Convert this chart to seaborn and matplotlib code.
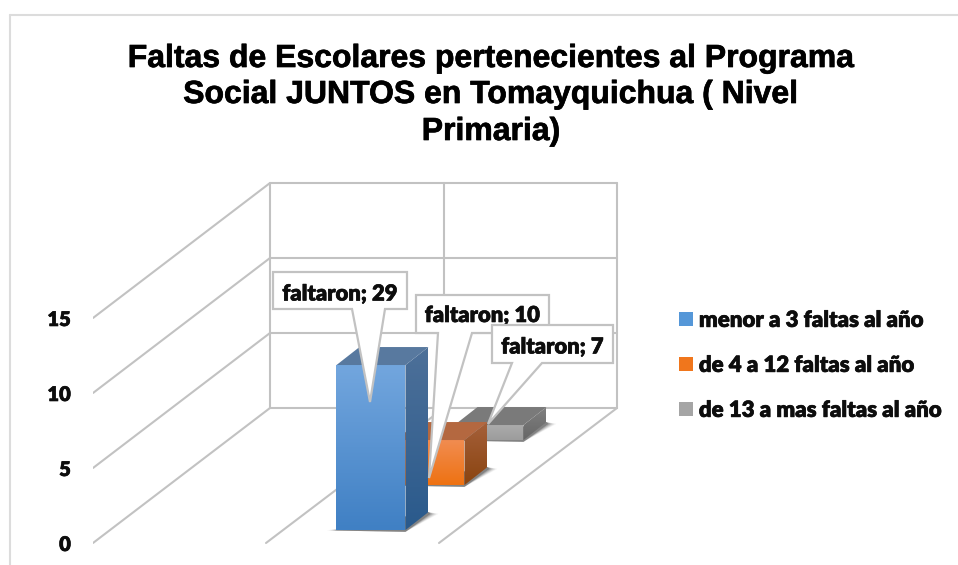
import numpy as np
import pandas as pd
import matplotlib
matplotlib.use('Agg')
import matplotlib.pyplot as plt
import matplotlib.patheffects as pe
import seaborn as sns
from matplotlib.colors import LinearSegmentedColormap
from matplotlib.patches import Polygon
from matplotlib.transforms import Affine2D

# Datos
series = ['menor a 3 faltas al año', 'de 4 a 12 faltas al año', 'de 13 a mas faltas al año']
alturas = [11, 3, 1]
etiquetas = [29, 10, 7]
ticks_y = [0, 5, 10, 15]

colores = ['#5597d8', '#f0761c', '#a5a5a5']
frente_arriba = ['#72a6de', '#f18c50', '#ababab']
frente_abajo = ['#4080c4', '#ee7212', '#9c9c9c']
lado_arriba = ['#4d7099', '#a5603a', '#808080']
lado_abajo = ['#2a5a8c', '#8a4410', '#666666']
techo = ['#58799f', '#b46840', '#7a7a7a']

W, H = 958, 565
PX_Y = 15.0        # pixeles por unidad en el eje y
Y0 = 543
X0 = 93
GRIS = '#c2c2c2'
NEGRO = '#0d0d0d'
# refuerzo del trazo, la negrita de Lato queda mas fina que la original
GRUESO = [pe.withStroke(linewidth=0.45, foreground=NEGRO)]

sns.set_theme(style='white')
plt.rcParams['font.family'] = ['Lato', 'DejaVu Sans']

fig = plt.figure(figsize=(W / 100, H / 100), dpi=100)
ax = fig.add_axes([X0 / W, 0, 1 - X0 / W, 1])
# coordenadas de pixel (origen arriba a la izquierda) para textos y cuadros
px = Affine2D().scale(1, -1).translate(0, H)

# pared y piso en perspectiva
prof_x, prof_y = 177, 135 / PX_Y
for v in ticks_y:
    ax.plot([X0, X0 + prof_x, 617], [v, v + prof_y, v + prof_y], color=GRIS, lw=1.5, zorder=1)
for x in [270, 444, 617]:
    ax.plot([x, x], [prof_y, prof_y + ticks_y[-1]], color=GRIS, lw=1.5, zorder=1)
for x in [266, 439]:
    ax.plot([x, x + prof_x + 1], [0, prof_y], color=GRIS, lw=1.5, zorder=1)

# barras de atras hacia adelante
lado_x, lado_y = 23, 18 / PX_Y
for i in [2, 1, 0]:
    d = 0.096 + i / 3
    xc = X0 + 261 + prof_x * d
    base = prof_y * d
    z = 5 + (2 - i) * 2
    n = len(ax.patches)
    df = pd.DataFrame({'x': [xc], 'y': [alturas[i]]})
    sns.barplot(data=df, x='x', y='y', native_scale=True, width=69, bottom=base, color=colores[i],
                saturation=1, label=series[i], ax=ax, zorder=z, legend=True, linewidth=0)
    bar = ax.patches[n]
    xa, xb = bar.get_x(), bar.get_x() + bar.get_width()
    ya, yb = base, base + alturas[i]

    # sombra sobre el piso
    for k, a in [(10, 0.06), (8, 0.10), (6, 0.14), (4, 0.2), (2, 0.3)]:
        ax.add_patch(Polygon([(xa - k, ya - 0.03), (xb, ya - 0.12), (xb + lado_x + k, ya + lado_y - 0.12),
                              (xb + lado_x, ya + lado_y)], closed=True, fc='#303030', ec='none',
                             alpha=a, zorder=z - 1))

    # degradado de la cara frontal y cara lateral
    cm = LinearSegmentedColormap.from_list('f', [frente_abajo[i], frente_arriba[i]])
    ax.imshow(np.linspace(1, 0, 64).reshape(-1, 1), cmap=cm, aspect='auto', extent=(xa, xb, ya, yb),
              zorder=z + 0.5)
    cm = LinearSegmentedColormap.from_list('l', [lado_abajo[i], lado_arriba[i]])
    lado = Polygon([(xb, ya), (xb + lado_x, ya + lado_y), (xb + lado_x, yb + lado_y), (xb, yb)],
                   closed=True, fc='none', ec='none', zorder=z)
    ax.add_patch(lado)
    im = ax.imshow(np.linspace(1, 0, 64).reshape(-1, 1), cmap=cm, aspect='auto',
                   extent=(xb, xb + lado_x, ya, yb + lado_y), zorder=z + 0.5)
    im.set_clip_path(lado)
    ax.add_patch(Polygon([(xa, yb), (xb, yb), (xb + lado_x, yb + lado_y), (xa + lado_x, yb + lado_y)],
                         closed=True, fc=techo[i], ec='none', zorder=z + 0.5))

ax.set_xlim(X0, W)
ax.set_ylim(-(H - Y0) / PX_Y, Y0 / PX_Y)
ax.set_xlabel('')
ax.set_ylabel('')
ax.set_xticks([])
ax.set_yticks(ticks_y)
ax.tick_params(axis='y', length=0, pad=16)
for t in ax.get_yticklabels():
    t.set_fontsize(14.5)
    t.set_fontweight('heavy')
    t.set_color(NEGRO)
    t.set_path_effects(GRUESO)
sns.despine(ax=ax, left=True, bottom=True)

# leyenda
handles, labels = ax.get_legend_handles_labels()
orden = [labels.index(s) for s in series]
leg = ax.legend([handles[k] for k in orden], [labels[k] for k in orden], loc='upper left', frameon=False,
                bbox_to_anchor=(670, 301), bbox_transform=px, borderaxespad=0,
                prop={'family': 'Lato', 'weight': 'heavy', 'size': 16}, labelcolor=NEGRO,
                handlelength=0.63, handleheight=0.63, handletextpad=0.27, labelspacing=1.08)
for t in leg.get_texts():
    t.set_path_effects(GRUESO)

# cuadros de etiqueta: caja, base de la punta, punta, capa y ajuste del texto
cuadros = [
    ((273, 272, 407, 309), (352, 385), (370, 402), 12, 3.5),
    ((416, 295, 549, 333), (438, 472), (429, 478), 14, 1.5),
    ((492, 325, 613, 363), (512, 542), (488, 424), 16, 3.0),
]
for (c, b, p, z, dy), v in zip(cuadros, etiquetas):
    x1, y1, x2, y2 = c
    ax.add_patch(Polygon([(x1, y1), (x2, y1), (x2, y2), (b[1], y2), p, (b[0], y2), (x1, y2)], closed=True,
                         fc='white', ec=GRIS, lw=1.6, transform=px, zorder=z, clip_on=False, joinstyle='miter'))
    ax.text((x1 + x2) / 2, (y1 + y2) / 2 + dy, f'faltaron; {v}', transform=px, ha='center', va='center',
            fontsize=15.8, fontweight='heavy', color=NEGRO, zorder=z + 1, path_effects=GRUESO)

# titulo
for linea, y in zip(['Faltas de Escolares pertenecientes al Programa',
                     'Social JUNTOS en Tomayquichua ( Nivel', 'Primaria)'], [67, 103, 140]):
    fig.text(491 / W, 1 - y / H, linea, ha='center', va='baseline', fontsize=23, fontweight='bold',
             family='Liberation Sans', color='black',
             path_effects=[pe.withStroke(linewidth=0.5, foreground='black')])

# borde del area del grafico
for xs, ys in [((10, 10), (15, H)), ((10, W), (15, 15))]:
    ax.plot(xs, ys, color='#dcdcdc', lw=1.5, transform=px, clip_on=False, zorder=0)

fig.savefig('out.png', dpi=100)
